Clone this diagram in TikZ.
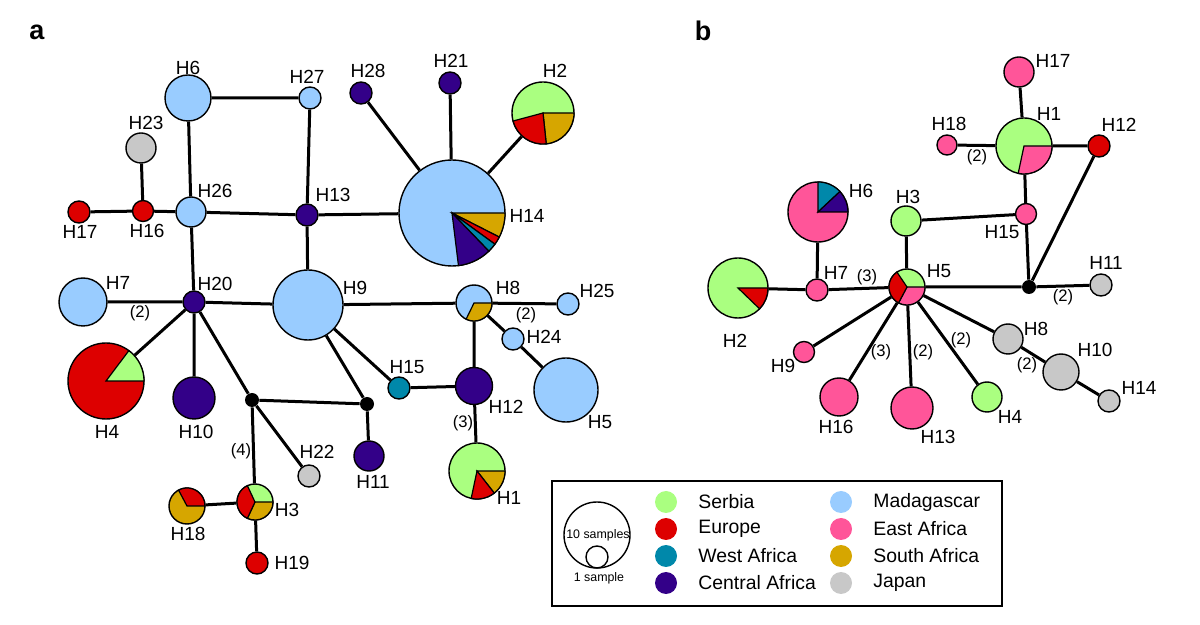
\documentclass[tikz,border=0pt]{standalone}
\usepackage{fontspec}
\setmainfont{Liberation Sans}
\usepackage{tikz}
\usetikzlibrary{positioning}
\definecolor{serbia}{RGB}{170,255,128}
\definecolor{europe}{RGB}{221,0,0}
\definecolor{westaf}{RGB}{0,136,170}
\definecolor{centaf}{RGB}{51,0,136}
\definecolor{mada}{RGB}{153,204,255}
\definecolor{eastaf}{RGB}{255,85,153}
\definecolor{southaf}{RGB}{214,166,0}
\definecolor{japan}{RGB}{200,200,200}
\tikzset{
  hap/.style = {circle, draw=black, line width=0.7pt, inner sep=0pt,
    minimum size=#1pt},% haplotype, #1 = radius
  jun/.style = {circle, fill=black, inner sep=0pt, minimum size=7pt},% median vector
  hlab/.style = {font=\fontsize{9.5}{11}\selectfont, inner sep=0pt},
  mut/.style = {font=\fontsize{8.3}{10}\selectfont, inner sep=0pt},% mutation steps
  link/.style = {line width=1.5pt},
  panel/.style = {font=\fontsize{13.5}{16}\selectfont\bfseries, inner sep=0pt},
  key/.style = {circle, inner sep=0pt, minimum size=11pt},
  keylab/.style = {font=\fontsize{9.7}{12}\selectfont, anchor=west, inner sep=0pt}
}
\newcommand{\slice}[5]{% node, start, end, radius, colour
  \filldraw[fill=#5, draw=black, line width=0.6pt] (#1.center) -- ++(#2:#4)
    arc[start angle=#2, end angle=#3, radius=#4] -- cycle;}

\begin{document}
\begin{tikzpicture}[x=0.5pt, y=-0.5pt]
\useasboundingbox (0,0) rectangle (1200,625);

% network a
\node[panel] (pa) at (37,32) {a};
\node[hap=23, fill=mada] (aH6) at (188,98) {};
\node[hap=11, fill=mada] (aH27) at (310,98) {};
\node[hap=15, fill=japan] (aH23) at (141,148) {};
\node[hap=10.5, fill=europe] (aH16) at (143,211) {};
\node[hap=11, fill=europe] (aH17) at (79,212) {};
\node[hap=15, fill=mada] (aH26) at (191,212) {};
\node[hap=11, fill=centaf] (aH13) at (307,215) {};
\node[hap=53, fill=mada] (aH14) at (452,213) {};
\node[hap=11, fill=centaf] (aH28) at (361,93) {};
\node[hap=11, fill=centaf] (aH21) at (450,83) {};
\node[hap=31, fill=serbia] (aH2) at (543,113) {};
\node[hap=11, fill=centaf] (aH20) at (194,302) {};
\node[hap=24, fill=mada] (aH7) at (83,302) {};
\node[hap=35, fill=mada] (aH9) at (308,305) {};
\node[hap=18, fill=mada] (aH8) at (474,303) {};
\node[hap=11, fill=mada] (aH25) at (568,304) {};
\node[hap=11, fill=mada] (aH24) at (513,339) {};
\node[hap=32, fill=mada] (aH5) at (566,390) {};
\node[hap=18.5, fill=centaf] (aH12) at (474,386) {};
\node[hap=11, fill=westaf] (aH15) at (399,388) {};
\node[hap=28, fill=serbia] (aH1) at (477,471) {};
\node[jun] (aJ1) at (252,400) {};
\node[jun] (aJ2) at (367,404) {};
\node[hap=38, fill=europe] (aH4) at (106,381) {};
\node[hap=21, fill=centaf] (aH10) at (194,398) {};
\node[hap=15, fill=centaf] (aH11) at (369,456) {};
\node[hap=11, fill=japan] (aH22) at (309,476) {};
\node[hap=18, fill=serbia] (aH3) at (255,502) {};
\node[hap=18, fill=southaf] (aH18) at (187,506) {};
\node[hap=11, fill=europe] (aH19) at (257,563) {};

\slice{aH14}{0}{27}{53}{southaf}
\slice{aH14}{27}{36}{53}{europe}
\slice{aH14}{36}{46}{53}{westaf}
\slice{aH14}{46}{83}{53}{centaf}
\slice{aH2}{0}{84}{31}{southaf}
\slice{aH2}{84}{165}{31}{europe}
\slice{aH8}{0}{116}{18}{southaf}
\slice{aH1}{0}{52}{28}{southaf}
\slice{aH1}{52}{102}{28}{europe}
\slice{aH4}{-53}{0}{38}{serbia}
\slice{aH3}{0}{115}{18}{southaf}
\slice{aH3}{115}{245}{18}{europe}
\slice{aH18}{242}{360}{18}{europe}

\draw[link] (aH6) -- (aH27) (aH6) -- (aH26) (aH27) -- (aH13)
  (aH23) -- (aH16) (aH17) -- (aH16) (aH16) -- (aH26) (aH26) -- (aH13)
  (aH13) -- (aH14) (aH26) -- (aH20) (aH13) -- (aH9)
  (aH14) -- (aH28) (aH14) -- (aH21) (aH14) -- (aH2);
\draw[link] (aH7) -- (aH20) (aH20) -- (aH9) (aH20) -- (aH4) (aH20) -- (aH10)
  (aH20) -- (aJ1) (aJ1) -- (aJ2) (aJ1) -- (aH22) (aJ1) -- (aH3)
  (aH3) -- (aH18) (aH3) -- (aH19) (aJ2) -- (aH9) (aJ2) -- (aH11);
\draw[link] (aH9) -- (aH15) (aH15) -- (aH12) (aH9) -- (aH8) (aH8) -- (aH12)
  (aH12) -- (aH1) (aH8) -- (aH25) (aH8) -- (aH24) (aH24) -- (aH5);

\node[hlab] (aH6t) at (188,68) {H6};
\node[hlab] (aH27t) at (307,77) {H27};
\node[hlab] (aH23t) at (146,123) {H23};
\node[hlab] (aH16t) at (147,231) {H16};
\node[hlab] (aH17t) at (80,232) {H17};
\node[hlab] (aH26t) at (215,191) {H26};
\node[hlab] (aH13t) at (333,195) {H13};
\node[hlab] (aH20t) at (215,284) {H20};
\node[hlab] (aH7t) at (118,283) {H7};
\node[hlab] (aH9t) at (355,288) {H9};
\node[hlab] (aH14t) at (527,216) {H14};
\node[hlab] (aH28t) at (368,71) {H28};
\node[hlab] (aH21t) at (451,61) {H21};
\node[hlab] (aH2t) at (555,71) {H2};
\node[hlab] (aH8t) at (508,288) {H8};
\node[hlab] (aH25t) at (597,291) {H25};
\node[hlab] (aH24t) at (544,337) {H24};
\node[hlab] (aH15t) at (407,367) {H15};
\node[hlab] (aH12t) at (506,407) {H12};
\node[hlab] (aH5t) at (600,422) {H5};
\node[hlab] (aH1t) at (509,498) {H1};
\node[hlab] (aH4t) at (107,432) {H4};
\node[hlab] (aH10t) at (196,432) {H10};
\node[hlab] (aH22t) at (317,452) {H22};
\node[hlab] (aH11t) at (373,482) {H11};
\node[hlab] (aH3t) at (287,510) {H3};
\node[hlab] (aH18t) at (188,534) {H18};
\node[hlab] (aH19t) at (292,563) {H19};
\node[mut] (am1) at (140,313) {(2)};
\node[mut] (am2) at (526,315) {(2)};
\node[mut] (am3) at (463,423) {(3)};
\node[mut] (am4) at (241,451) {(4)};

% network b
\node[panel] (pb) at (703,31) {b};
\node[hap=15, fill=eastaf] (bH17) at (1019,72) {};
\node[hap=28, fill=serbia] (bH1) at (1024,146) {};
\node[hap=10, fill=eastaf] (bH18) at (947,145) {};
\node[hap=11, fill=europe] (bH12) at (1099,146) {};
\node[hap=10.5, fill=eastaf] (bH15) at (1026,214) {};
\node[hap=15, fill=serbia] (bH3) at (906,221) {};
\node[hap=18, fill=serbia] (bH5) at (907,287) {};
\node[jun] (bJ) at (1029,287) {};
\node[hap=11, fill=japan] (bH11) at (1101,285) {};
\node[hap=11, fill=eastaf] (bH7) at (817,290) {};
\node[hap=30, fill=eastaf] (bH6) at (818,212) {};
\node[hap=30, fill=serbia] (bH2) at (738,288) {};
\node[hap=10.5, fill=eastaf] (bH9) at (804,352) {};
\node[hap=19, fill=eastaf] (bH16) at (839,397) {};
\node[hap=21, fill=eastaf] (bH13) at (912,408) {};
\node[hap=15, fill=serbia] (bH4) at (987,397) {};
\node[hap=15, fill=japan] (bH8) at (1008,339) {};
\node[hap=18, fill=japan] (bH10) at (1061,372) {};
\node[hap=11, fill=japan] (bH14) at (1109,401) {};

\slice{bH1}{0}{102}{28}{eastaf}
\slice{bH5}{0}{118}{18}{eastaf}
\slice{bH5}{118}{236}{18}{europe}
\slice{bH6}{-90}{-43}{30}{westaf}
\slice{bH6}{-43}{0}{30}{centaf}
\slice{bH2}{0}{44}{30}{europe}

\draw[link] (bH17) -- (bH1) (bH18) -- (bH1) (bH1) -- (bH12) (bH1) -- (bH15)
  (bH12) -- (bJ) (bH15) -- (bJ) (bH3) -- (bH15) (bH3) -- (bH5)
  (bH5) -- (bJ) (bJ) -- (bH11);
\draw[link] (bH7) -- (bH5) (bH6) -- (bH7) (bH2) -- (bH7) (bH5) -- (bH9)
  (bH5) -- (bH16) (bH5) -- (bH13) (bH5) -- (bH4) (bH5) -- (bH8)
  (bH8) -- (bH10) (bH10) -- (bH14);

\node[hlab] (bH17t) at (1053,61) {H17};
\node[hlab] (bH1t) at (1049,114) {H1};
\node[hlab] (bH18t) at (949,124) {H18};
\node[hlab] (bH12t) at (1119,125) {H12};
\node[hlab] (bH15t) at (1002,232) {H15};
\node[hlab] (bH3t) at (908,197) {H3};
\node[hlab] (bH6t) at (861,191) {H6};
\node[hlab] (bH5t) at (939,271) {H5};
\node[hlab] (bH7t) at (836,273) {H7};
\node[hlab] (bH11t) at (1106,263) {H11};
\node[hlab] (bH2t) at (735,341) {H2};
\node[hlab] (bH9t) at (783,366) {H9};
\node[hlab] (bH16t) at (836,427) {H16};
\node[hlab] (bH13t) at (938,437) {H13};
\node[hlab] (bH4t) at (1010,417) {H4};
\node[hlab] (bH8t) at (1036,329) {H8};
\node[hlab] (bH10t) at (1095,350) {H10};
\node[hlab] (bH14t) at (1139,388) {H14};
\node[mut] (bm1) at (977,157) {(2)};
\node[mut] (bm2) at (867,277) {(3)};
\node[mut] (bm3) at (1063,297) {(2)};
\node[mut] (bm4) at (881,352) {(3)};
\node[mut] (bm5) at (923,352) {(2)};
\node[mut] (bm6) at (961,340) {(2)};
\node[mut] (bm7) at (1027,365) {(2)};

% legend
\draw[line width=0.75pt] (552,481) rectangle (1002,606);
\node[hap=33] (big) at (597,535) {};
\node[hap=11] (small) at (597,557) {};
\node[font=\fontsize{6.2}{8}\selectfont, inner sep=0pt] (bigt) at (598,535) {10 samples};
\node[font=\fontsize{6.2}{8}\selectfont, inner sep=0pt] (smallt) at (599,578) {1 sample};
\node[key, fill=serbia] (k1) at (666,502) {};
\node[key, fill=europe] (k2) at (666,529) {};
\node[key, fill=westaf] (k3) at (666,556) {};
\node[key, fill=centaf] (k4) at (666,583) {};
\node[key, fill=mada] (k5) at (841,502) {};
\node[key, fill=eastaf] (k6) at (841,529) {};
\node[key, fill=southaf] (k7) at (841,556) {};
\node[key, fill=japan] (k8) at (841,583) {};
\node[keylab] (k1t) at (698,502) {Serbia};
\node[keylab] (k2t) at (698,529) {Europe};
\node[keylab] (k3t) at (698,556) {West Africa};
\node[keylab] (k4t) at (698,583) {Central Africa};
\node[keylab] (k5t) at (873,502) {Madagascar};
\node[keylab] (k6t) at (873,529) {East Africa};
\node[keylab] (k7t) at (873,556) {South Africa};
\node[keylab] (k8t) at (873,583) {Japan};
\end{tikzpicture}
\end{document}
